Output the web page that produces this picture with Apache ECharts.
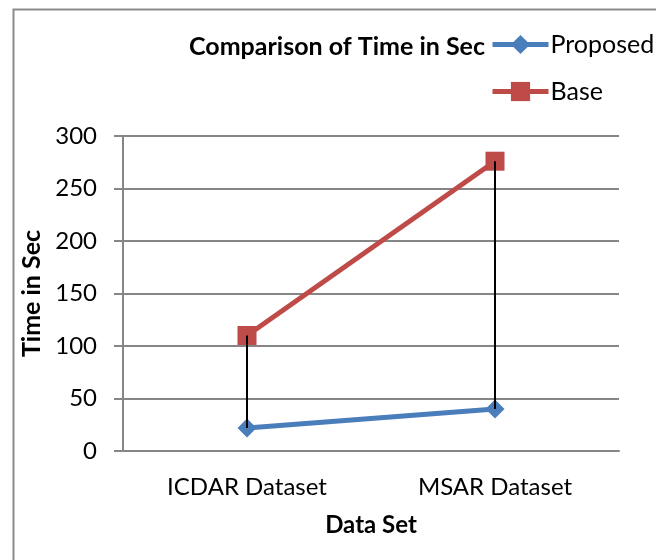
<!DOCTYPE html>
<html><head><meta charset="utf-8">
<script src="https://cdn.jsdelivr.net/npm/echarts@6/dist/echarts.min.js"></script>
<style>html,body{margin:0;padding:0;background:#fff}#c{width:656px;height:560px}</style>
</head><body><div id="c"></div>
<script>
const categories = ['ICDAR Dataset', 'MSAR Dataset'];
const proposed = [22, 40];
const base = [110, 276];
const yTicks = [0, 50, 100, 150, 200, 250, 300];

const FONT = 'Lato';
const chart = echarts.init(document.getElementById('c'), null, {renderer: 'canvas'});
chart.setOption({
  backgroundColor: '#fff',
  animation: false,
  graphic: [{
    type: 'rect', left: 11, top: 7, z: -10,
    shape: {width: 700, height: 600},
    style: {fill: 'none', stroke: '#8c8c8c', lineWidth: 2}
  }],
  title: {
    text: 'Comparison of Time in Sec',
    left: 332, top: 29, textAlign: 'center',
    textStyle: {fontFamily: FONT, fontWeight: 'bold', fontSize: 25, color: '#000'}
  },
  legend: {
    orient: 'vertical', left: 485, top: 27, itemGap: 22,
    itemWidth: 56, itemHeight: 24,
    lineStyle: {width: 5},
    textStyle: {fontFamily: FONT, fontSize: 25, color: '#000', padding: [0, 0, 0, -3]},
    data: ['Proposed', 'Base']
  },
  grid: {left: 123, right: 37, top: 136, bottom: 109, containLabel: false},
  xAxis: {
    type: 'category', data: categories, boundaryGap: true,
    axisLine: {lineStyle: {color: '#868686', width: 2}},
    axisTick: {show: false},
    axisLabel: {fontFamily: FONT, fontSize: 24, color: '#000', margin: 24},
    name: 'Data Set', nameLocation: 'middle', nameGap: 62,
    nameTextStyle: {fontFamily: FONT, fontWeight: 'bold', fontSize: 24, color: '#000'}
  },
  yAxis: {
    type: 'value', min: yTicks[0], max: yTicks[yTicks.length - 1], interval: 50,
    axisLine: {show: true, lineStyle: {color: '#868686', width: 2}},
    axisTick: {show: true, length: 9, lineStyle: {color: '#868686', width: 2}},
    splitLine: {lineStyle: {color: '#868686', width: 2}},
    axisLabel: {fontFamily: FONT, fontSize: 24, color: '#000', margin: 26},
    name: 'Time in Sec', nameLocation: 'middle', nameGap: 75,
    nameTextStyle: {fontFamily: FONT, fontWeight: 'bold', fontSize: 25, color: '#000'}
  },
  series: [
    {
      name: 'Proposed', type: 'line', data: proposed,
      symbol: 'diamond', symbolSize: 19,
      lineStyle: {color: '#4A7EBB', width: 5},
      itemStyle: {color: '#4A7EBB'}, z: 3
    },
    {
      name: 'Base', type: 'line', data: base,
      symbol: 'rect', symbolSize: 19,
      lineStyle: {color: '#BE4B48', width: 5},
      itemStyle: {color: '#BE4B48'}, z: 3
    },
    {
      name: 'drop', type: 'custom', z: 5,
      data: categories.map((c, i) => [i, proposed[i], base[i]]),
      renderItem: function (params, api) {
        const a = api.coord([api.value(0), api.value(1)]);
        const b = api.coord([api.value(0), api.value(2)]);
        return {type: 'line', shape: {x1: a[0], y1: a[1], x2: b[0], y2: b[1]},
          style: {stroke: '#000', lineWidth: 2}};
      }
    }
  ]
});
</script></body></html>
